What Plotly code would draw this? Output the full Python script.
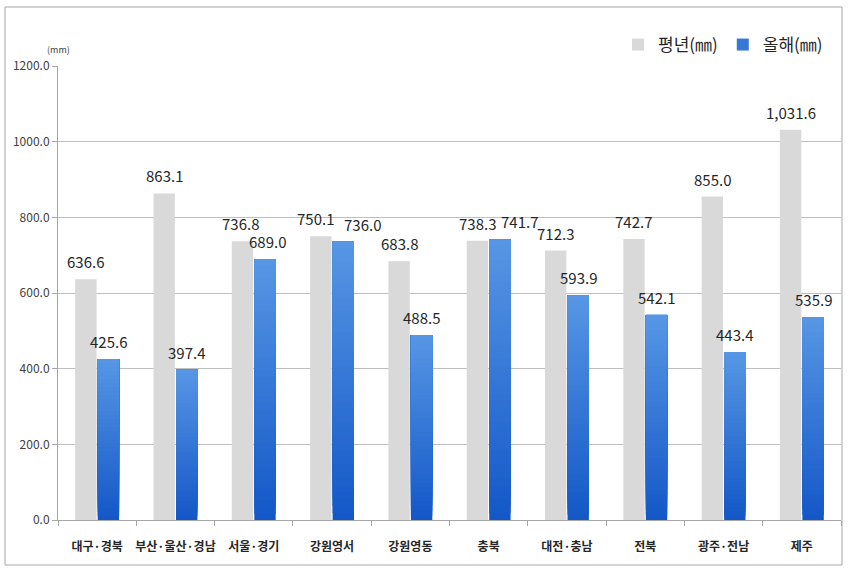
import plotly.graph_objects as go

categories = ["대구·경북", "부산·울산·경남", "서울·경기", "강원영서", "강원영동",
              "충북", "대전·충남", "전북", "광주·전남", "제주"]
normal_vals = [636.6, 863.1, 736.8, 750.1, 683.8, 738.3, 712.3, 742.7, 855.0, 1031.6]
this_year_vals = [425.6, 397.4, 689.0, 736.0, 488.5, 741.7, 593.9, 542.1, 443.4, 535.9]
y_ticks = [0, 200, 400, 600, 800, 1000, 1200]
series_names = ["평년(㎜)", "올해(㎜)"]

# label nudges (pixels) to mimic the reference's manually placed labels
normal_label_dx = [0, 0, -2, -5, 0, 0, 0, 0, 0, 0]
this_year_label_dx = [0, 0, 2, 19, 0, 20, 0, 0, 0, 0]

W, H = 848, 568
ML, MR, MT, MB = 58, 7, 66, 48
PW = W - ML - MR
PH = H - MT - MB
BARGAP = 0.425
BARGROUPGAP = 0.05
FONT = "Noto Sans CJK KR"

GRAY = "#d9d9d9"
TOP_RGB = (86, 150, 228)
BOT_RGB = (20, 88, 200)
NSEG = 40

fig = go.Figure()

fig.add_trace(go.Bar(
    x=categories, y=normal_vals, name=series_names[0],
    marker=dict(color=GRAY, line=dict(width=0)),
    offsetgroup="a", hoverinfo="skip", showlegend=True, legendrank=1,
))

# blue bars drawn as a vertical gradient: each layer covers from its base to the bar top
for i in range(NSEG):
    t = i / (NSEG - 1)
    c = tuple(int(round(BOT_RGB[k] + (TOP_RGB[k] - BOT_RGB[k]) * t)) for k in range(3))
    fig.add_trace(go.Bar(
        x=categories,
        y=[v - v * i / NSEG for v in this_year_vals],
        base=[v * i / NSEG for v in this_year_vals],
        marker=dict(color="rgb(%d,%d,%d)" % c, line=dict(width=0)),
        offsetgroup="b", hoverinfo="skip",
        name=series_names[1], showlegend=(i == NSEG // 2), legendrank=2,
    ))

slot = PW / len(categories) * (1 - BARGAP) / 2
LABEL_FONT = dict(family=FONT, size=15, color="#262626")
annotations = []
for cat, v, dx in zip(categories, normal_vals, normal_label_dx):
    annotations.append(dict(x=cat, y=v, xref="x", yref="y", text=f"{v:,.1f}",
                            showarrow=False, xshift=-slot / 2 + dx, yshift=5,
                            yanchor="bottom", font=LABEL_FONT))
for cat, v, dx in zip(categories, this_year_vals, this_year_label_dx):
    annotations.append(dict(x=cat, y=v, xref="x", yref="y", text=f"{v:,.1f}",
                            showarrow=False, xshift=slot / 2 + dx, yshift=5,
                            yanchor="bottom", font=LABEL_FONT))
annotations.append(dict(x=(45 - ML) / PW, y=1 + (MT - 41) / PH,
                        xref="paper", yref="paper", text="(mm)", showarrow=False,
                        font=dict(family=FONT, size=9, color="#404040")))

shapes = [dict(type="rect", xref="paper", yref="paper",
               x0=(5 - ML) / PW, x1=(842 - ML) / PW,
               y0=1 - (565 - MT) / PH, y1=1 + (MT - 7) / PH,
               line=dict(color="#a6a6a6", width=1), layer="below")]

fig.update_layout(
    width=W, height=H,
    margin=dict(l=ML, r=MR, t=MT, b=MB, autoexpand=False),
    paper_bgcolor="white", plot_bgcolor="white",
    barmode="group", bargap=BARGAP, bargroupgap=BARGROUPGAP,
    font=dict(family=FONT, color="#262626"),
    showlegend=True,
    legend=dict(orientation="h", x=(828 - ML) / PW, xanchor="right",
                y=1 + (MT - 27) / PH, yanchor="top",
                font=dict(family=FONT, size=17, color="#262626"),
                itemwidth=30, bgcolor="rgba(0,0,0,0)", traceorder="normal"),
    annotations=annotations,
    shapes=shapes,
    xaxis=dict(type="category", categoryorder="array", categoryarray=categories,
               showline=True, linecolor="#a6a6a6", linewidth=1,
               ticks="outside", tickson="boundaries", ticklen=5, tickcolor="#a6a6a6",
               tickangle=0, automargin=False, ticklabelstandoff=16,
               tickfont=dict(family=FONT, size=12, color="#262626", weight="bold"),
               showgrid=False, fixedrange=True),
    yaxis=dict(range=[0, 1200], tickvals=y_ticks,
               ticktext=[f"{t:.1f}" for t in y_ticks],
               showline=True, linecolor="#a6a6a6", linewidth=1,
               ticks="outside", ticklen=5, tickcolor="#a6a6a6",
               showgrid=True, gridcolor="#bfbfbf", gridwidth=1,
               zeroline=False, automargin=False,
               tickfont=dict(family=FONT, size=12, color="#404040")),
)

fig.write_html("out.html", config={"displayModeBar": False},
               post_script="document.body.style.margin='0';document.body.style.overflow='hidden';")
